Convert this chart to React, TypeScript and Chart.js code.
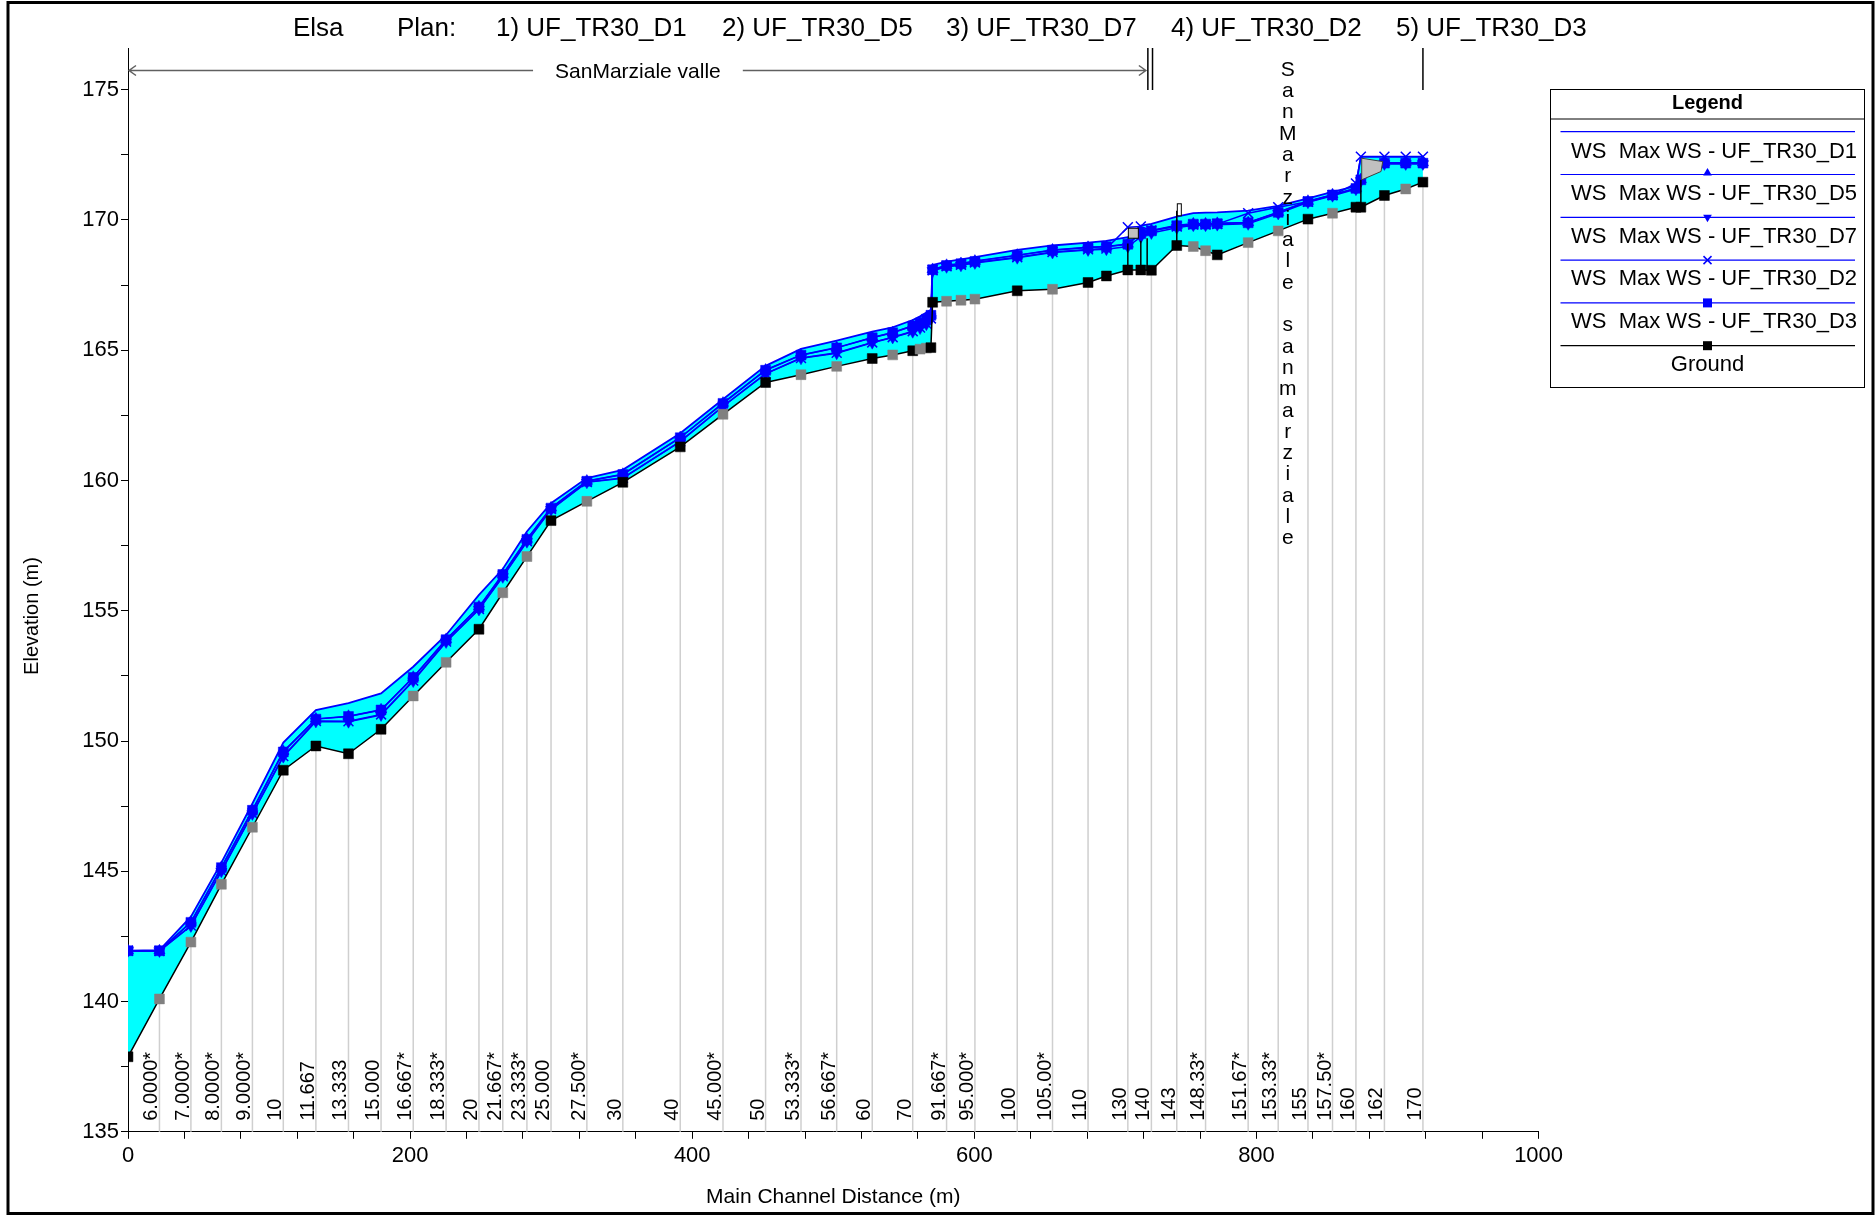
import React, { useEffect, useRef } from "react";
import { Chart, registerables } from "chart.js";

Chart.register(...registerables);

const FONT = "'Liberation Sans', Arial, Helvetica, sans-serif";

// ---------------- DATA ----------------
const titleParts = ["Elsa", "Plan:", "1) UF_TR30_D1", "2) UF_TR30_D5", "3) UF_TR30_D7", "4) UF_TR30_D2", "5) UF_TR30_D3"];

// main channel distance (m) of each cross section
const stations = [
  0, 22.3, 44.6, 66.2, 88.2, 110.1, 133.2, 156.3, 179.4, 202.2,
  225.5, 248.8, 265.7, 282.8, 299.9, 325.3, 350.8, 391.5, 421.8, 452.0,
  477.1, 502.4, 527.6, 542.1, 556.3, 561.5, 566.0, 569.2, 570.4, 580.3,
  590.5, 600.4, 630.4, 655.4, 680.6, 693.6, 708.8, 718.0, 725.5, 743.5,
  755.2, 763.9, 772.2, 794.1, 815.4, 836.5, 853.9, 870.5, 874.0, 890.7,
  905.8, 918.0,
];

// river station labels ("" = not labelled)
const stationLabels = [
  "", "6.0000*", "7.0000*", "8.0000*", "9.0000*", "10", "11.667", "13.333", "15.000", "16.667*",
  "18.333*", "20", "21.667*", "23.333*", "25.000", "27.500*", "30", "40", "45.000*", "50",
  "53.333*", "56.667*", "60", "", "70", "", "", "", "", "91.667*",
  "", "95.000*", "100", "105.00*", "110", "", "130", "", "140", "143",
  "", "148.33*", "", "151.67*", "153.33*", "155", "157.50*", "160", "", "162",
  "", "170",
];

const ground = [
  137.88, 140.10, 142.28, 144.50, 146.69, 148.88, 149.81, 149.51, 150.45, 151.73,
  153.02, 154.29, 155.69, 157.08, 158.46, 159.20, 159.93, 161.29, 162.54, 163.76,
  164.06, 164.38, 164.68, 164.82, 164.98, 165.04, 165.08, 165.10, 166.84, 166.88,
  166.92, 166.96, 167.28, 167.34, 167.60, 167.85, 168.08, 168.08, 168.07, 169.02,
  168.98, 168.82, 168.66, 169.13, 169.58, 170.03, 170.26, 170.49, 170.49, 170.94,
  171.19, 171.45,
];

// 1 = interpolated cross section (grey marker)
const groundInterpolated = [
  0, 1, 1, 1, 1, 0, 0, 0, 0, 1,
  1, 0, 1, 1, 0, 1, 0, 0, 1, 0,
  1, 1, 0, 1, 0, 1, 1, 0, 0, 1,
  1, 1, 0, 1, 0, 0, 0, 0, 0, 0,
  1, 1, 0, 1, 1, 0, 1, 0, 0, 0,
  1, 0,
];

const wsD1 = [
  141.95, 141.97, 143.26, 145.33, 147.60, 149.94, 151.19, 151.45, 151.83, 152.85,
  154.07, 155.61, 156.60, 158.04, 159.13, 160.09, 160.41, 161.81, 163.12, 164.40,
  165.05, 165.37, 165.71, 165.88, 166.16, 166.30, 166.45, 166.55, 168.27, 168.40,
  168.49, 168.57, 168.85, 169.02, 169.13, 169.20, 169.34, 169.78, 169.85, 170.13,
  170.26, 170.28, 170.29, 170.36, 170.54, 170.83, 171.08, 171.30, 172.43, 172.43,
  172.43, 172.43,
];

const wsD5 = [
  141.95, 141.95, 143.05, 145.15, 147.35, 149.60, 150.85, 150.95, 151.20, 152.45,
  153.90, 155.15, 156.40, 157.75, 158.95, 159.98, 160.24, 161.65, 162.97, 164.24,
  164.82, 165.10, 165.49, 165.68, 165.94, 166.05, 166.20, 166.35, 168.10, 168.26,
  168.33, 168.42, 168.65, 168.85, 168.95, 168.98, 169.08, 169.50, 169.60, 169.80,
  169.85, 169.85, 169.87, 169.90, 170.30, 170.72, 170.97, 171.22, 171.55, 172.20,
  172.20, 172.20,
];

const wsD7 = [
  141.95, 141.94, 142.90, 145.00, 147.20, 149.40, 150.75, 150.74, 151.00, 152.30,
  153.80, 155.05, 156.30, 157.65, 158.88, 159.93, 160.08, 161.49, 162.84, 164.09,
  164.69, 164.88, 165.29, 165.49, 165.71, 165.85, 166.00, 166.20, 168.05, 168.20,
  168.26, 168.35, 168.55, 168.75, 168.85, 168.88, 168.98, 169.35, 169.50, 169.70,
  169.80, 169.80, 169.82, 169.85, 170.25, 170.68, 170.93, 171.18, 171.50, 172.15,
  172.15, 172.15,
];

const wsD2 = [
  141.95, 141.94, 142.92, 145.02, 147.22, 149.42, 150.77, 150.76, 151.02, 152.32,
  153.82, 155.07, 156.32, 157.67, 158.90, 159.94, 160.10, 161.50, 162.85, 164.10,
  164.70, 164.90, 165.30, 165.50, 165.73, 165.87, 166.02, 166.22, 168.07, 168.22,
  168.28, 168.37, 168.57, 168.77, 168.87, 168.90, 169.72, 169.75, 169.60, 169.75,
  169.82, 169.82, 169.84, 170.26, 170.49, 170.70, 170.95, 171.40, 172.43, 172.43,
  172.43, 172.43,
];

const wsD3 = [
  141.95, 141.95, 143.04, 145.14, 147.34, 149.58, 150.84, 150.94, 151.19, 152.44,
  153.89, 155.14, 156.39, 157.74, 158.94, 159.97, 160.23, 161.64, 162.96, 164.23,
  164.81, 165.09, 165.48, 165.67, 165.93, 166.04, 166.19, 166.34, 168.09, 168.25,
  168.32, 168.41, 168.64, 168.84, 168.94, 168.97, 169.07, 169.48, 169.58, 169.78,
  169.84, 169.84, 169.86, 169.89, 170.29, 170.71, 170.96, 171.21, 171.54, 172.18,
  172.18, 172.18,
];

const seriesLabels = [
  "WS  Max WS - UF_TR30_D1",
  "WS  Max WS - UF_TR30_D5",
  "WS  Max WS - UF_TR30_D7",
  "WS  Max WS - UF_TR30_D2",
  "WS  Max WS - UF_TR30_D3",
  "Ground",
];

// reaches
const reachNames = ["SanMarziale valle", "SanMarziale sanmarziale"];
const reachStart = [0, 726.3];
const reachEnd = [723.0, 918.0];

// structures (inline structure / bridge elements)
const structX = [708.8, 718.0, 722.5, 743.5, 874.0];
const structLow = [168.08, 168.08, 168.07, 169.02, 170.49];
const structHigh = [169.10, 169.20, 169.30, 170.35, 171.54];
const deckX = [874.6, 889.5, 888.3, 874.6];
const deckY = [172.37, 172.24, 171.86, 171.54];
const boxX = [712.7];
const boxY = [169.49];
const postX = [745.3];
const postY = [170.39];

// axes
const xTickValues = Array.from({ length: 26 }, (_, i) => i * 40);
const yTickValues = Array.from({ length: 17 }, (_, i) => 135 + i * 2.5);

// ---------------- DRAW HELPERS ----------------
const BLUE = "#0000FF";

function drawMarker(ctx: CanvasRenderingContext2D, style: string, x: number, y: number, color: string) {
  ctx.save();
  ctx.fillStyle = color;
  ctx.strokeStyle = color;
  ctx.lineWidth = 1.5;
  const r = 5;
  if (style === "triUp") {
    ctx.beginPath();
    ctx.moveTo(x, y - r);
    ctx.lineTo(x - r * 0.87, y + r * 0.5);
    ctx.lineTo(x + r * 0.87, y + r * 0.5);
    ctx.closePath();
    ctx.fill();
  } else if (style === "triDown") {
    ctx.beginPath();
    ctx.moveTo(x, y + r);
    ctx.lineTo(x - r * 0.87, y - r * 0.5);
    ctx.lineTo(x + r * 0.87, y - r * 0.5);
    ctx.closePath();
    ctx.fill();
  } else if (style === "cross") {
    ctx.beginPath();
    ctx.moveTo(x - 4, y - 4);
    ctx.lineTo(x + 4, y + 4);
    ctx.moveTo(x + 4, y - 4);
    ctx.lineTo(x - 4, y + 4);
    ctx.stroke();
  } else if (style === "square") {
    ctx.fillRect(x - 4.5, y - 4.5, 9, 9);
  }
  ctx.restore();
}

const overlayPlugin = {
  id: "overlay",
  beforeDraw(chart: any) {
    const ctx = chart.ctx;
    ctx.save();
    ctx.fillStyle = "#ffffff";
    ctx.fillRect(0, 0, chart.width, chart.height);
    ctx.restore();
  },
  beforeDatasetsDraw(chart: any) {
    const { ctx, chartArea } = chart;
    const xs = chart.scales.x;
    const ys = chart.scales.y;
    ctx.save();
    ctx.strokeStyle = "#cfcfcf";
    ctx.lineWidth = 1.5;
    stationLabels.forEach((lab, i) => {
      if (!lab) return;
      const px = xs.getPixelForValue(stations[i]);
      const py = ys.getPixelForValue(ground[i]);
      ctx.beginPath();
      ctx.moveTo(px, py);
      ctx.lineTo(px, chartArea.bottom);
      ctx.stroke();
    });
    ctx.fillStyle = "#000";
    ctx.font = `20px ${FONT}`;
    ctx.textAlign = "left";
    ctx.textBaseline = "alphabetic";
    stationLabels.forEach((lab, i) => {
      if (!lab) return;
      const px = xs.getPixelForValue(stations[i]);
      ctx.save();
      ctx.translate(px - 2, chartArea.bottom - 11);
      ctx.rotate(-Math.PI / 2);
      ctx.fillText(lab, 0, 0);
      ctx.restore();
    });
    ctx.restore();
  },
  afterDatasetsDraw(chart: any) {
    const { ctx } = chart;
    const xs = chart.scales.x;
    const ys = chart.scales.y;
    ctx.save();
    // deck polygon
    ctx.beginPath();
    deckX.forEach((dx, i) => {
      const px = xs.getPixelForValue(dx);
      const py = ys.getPixelForValue(deckY[i]);
      if (i === 0) ctx.moveTo(px, py);
      else ctx.lineTo(px, py);
    });
    ctx.closePath();
    ctx.fillStyle = "#c0c0c0";
    ctx.fill();
    ctx.strokeStyle = "#404040";
    ctx.lineWidth = 1;
    ctx.stroke();
    // structure lines
    ctx.strokeStyle = "#000";
    ctx.lineWidth = 1.5;
    structX.forEach((sx, i) => {
      const px = xs.getPixelForValue(sx);
      ctx.beginPath();
      ctx.moveTo(px, ys.getPixelForValue(structLow[i]));
      ctx.lineTo(px, ys.getPixelForValue(structHigh[i]));
      ctx.stroke();
    });
    // boxes
    boxX.forEach((bx, i) => {
      const px = xs.getPixelForValue(bx);
      const py = ys.getPixelForValue(boxY[i]);
      ctx.fillStyle = "#c0c0c0";
      ctx.fillRect(px - 5, py - 5, 10, 10);
      ctx.strokeStyle = "#000";
      ctx.lineWidth = 1;
      ctx.strokeRect(px - 5, py - 5, 10, 10);
    });
    postX.forEach((bx, i) => {
      const px = xs.getPixelForValue(bx);
      const py = ys.getPixelForValue(postY[i]);
      ctx.fillStyle = "#ffffff";
      ctx.fillRect(px - 2, py - 6, 4, 12);
      ctx.strokeStyle = "#000";
      ctx.lineWidth = 1;
      ctx.strokeRect(px - 2, py - 6, 4, 12);
    });
    ctx.restore();
  },
  afterDraw(chart: any) {
    const { ctx, chartArea } = chart;
    const xs = chart.scales.x;
    ctx.save();

    // title
    const titleX = [293, 397, 496, 722, 946, 1171, 1396];
    ctx.fillStyle = "#000";
    ctx.font = `26px ${FONT}`;
    ctx.textAlign = "left";
    ctx.textBaseline = "middle";
    titleParts.forEach((t, i) => ctx.fillText(t, titleX[i], 28.5));

    // reach 1 (horizontal annotation with arrows)
    const lineY = 70.5;
    const r1a = xs.getPixelForValue(reachStart[0]);
    const r1b = xs.getPixelForValue(reachEnd[0]);
    const cx = (r1a + r1b) / 2;
    ctx.font = `21px ${FONT}`;
    const tw = ctx.measureText(reachNames[0]).width;
    ctx.strokeStyle = "#606060";
    ctx.lineWidth = 1.5;
    ctx.beginPath();
    ctx.moveTo(r1a + 1, lineY);
    ctx.lineTo(cx - tw / 2 - 22, lineY);
    ctx.moveTo(cx + tw / 2 + 22, lineY);
    ctx.lineTo(r1b - 2, lineY);
    ctx.moveTo(r1a + 8, lineY - 5);
    ctx.lineTo(r1a + 1, lineY);
    ctx.lineTo(r1a + 8, lineY + 5);
    ctx.moveTo(r1b - 9, lineY - 5);
    ctx.lineTo(r1b - 2, lineY);
    ctx.lineTo(r1b - 9, lineY + 5);
    ctx.stroke();
    ctx.fillStyle = "#000";
    ctx.textAlign = "center";
    ctx.textBaseline = "alphabetic";
    ctx.fillText(reachNames[0], cx, 78);

    // reach boundary bars
    ctx.strokeStyle = "#000";
    ctx.lineWidth = 1.5;
    [reachEnd[0], reachStart[1], reachEnd[1]].forEach((v) => {
      const px = xs.getPixelForValue(v);
      ctx.beginPath();
      ctx.moveTo(px, chartArea.top);
      ctx.lineTo(px, 90);
      ctx.stroke();
    });

    // reach 2 (vertical stacked letters)
    const r2c = (xs.getPixelForValue(reachStart[1]) + xs.getPixelForValue(reachEnd[1])) / 2;
    ctx.font = `21px ${FONT}`;
    ctx.textAlign = "center";
    ctx.textBaseline = "middle";
    Array.from(reachNames[1]).forEach((ch, k) => {
      ctx.fillText(ch, r2c, 70 + k * 21.3);
    });

    // axis titles
    ctx.font = `21px ${FONT}`;
    ctx.textAlign = "center";
    ctx.textBaseline = "middle";
    ctx.fillText("Main Channel Distance (m)", (chartArea.left + chartArea.right) / 2, 1197);
    ctx.save();
    ctx.translate(32, 616);
    ctx.rotate(-Math.PI / 2);
    ctx.font = `20px ${FONT}`;
    ctx.fillText("Elevation (m)", 0, 0);
    ctx.restore();

    // legend
    const lx0 = 1550.5, lx1 = 1864.5, ly0 = 89.5, ly1 = 387.5;
    ctx.strokeStyle = "#000";
    ctx.lineWidth = 1;
    ctx.strokeRect(lx0, ly0, lx1 - lx0, ly1 - ly0);
    ctx.beginPath();
    ctx.moveTo(lx0, 119);
    ctx.lineTo(lx1, 119);
    ctx.stroke();
    ctx.font = `bold 20px ${FONT}`;
    ctx.textAlign = "center";
    ctx.fillText("Legend", (lx0 + lx1) / 2, 103);
    const markerStyles = ["none", "triUp", "triDown", "cross", "square", "square"];
    const lineColors = [BLUE, BLUE, BLUE, BLUE, BLUE, "#000"];
    const mx = 1707.5;
    seriesLabels.forEach((lab, i) => {
      const ly = 131.7 + i * 42.8;
      const ty = 151.5 + i * 42.6;
      ctx.strokeStyle = lineColors[i];
      ctx.lineWidth = 1.2;
      ctx.beginPath();
      ctx.moveTo(1560.5, ly);
      ctx.lineTo(1855, ly);
      ctx.stroke();
      if (markerStyles[i] !== "none") {
        drawMarker(ctx, markerStyles[i], mx, markerStyles[i] === "triUp" ? ly - 1.5 : ly, lineColors[i]);
      }
      ctx.fillStyle = "#000";
      ctx.font = `22px ${FONT}`;
      if (i < 5) {
        ctx.textAlign = "left";
        ctx.fillText(lab, 1571, ty);
      } else {
        ctx.textAlign = "center";
        ctx.fillText(lab, mx, ty);
      }
    });

    // outer frame
    ctx.strokeStyle = "#000";
    ctx.lineWidth = 3;
    ctx.strokeRect(8, 2.5, 1865, 1211);
    ctx.restore();
  },
};

export default function App() {
  const ref = useRef<HTMLCanvasElement | null>(null);

  useEffect(() => {
    document.body.style.margin = "0";
    const canvas = ref.current;
    if (!canvas) return;

    const mk = (ys: number[]) => stations.map((x, i) => ({ x, y: ys[i] }));
    const groundColors = groundInterpolated.map((g) => (g ? "#808080" : "#000000"));

    const chart = new Chart(canvas, {
      type: "line",
      data: {
        datasets: [
          {
            label: seriesLabels[5],
            data: mk(ground),
            borderColor: "#000000",
            borderWidth: 1.5,
            pointStyle: "rect",
            pointRadius: 7,
            pointBackgroundColor: groundColors,
            pointBorderColor: groundColors,
            pointBorderWidth: 0.5,
            order: 0,
          },
          {
            label: seriesLabels[0],
            data: mk(wsD1),
            borderColor: BLUE,
            borderWidth: 1.8,
            pointRadius: 0,
            order: 5,
          },
          {
            label: seriesLabels[1],
            data: mk(wsD5),
            borderColor: BLUE,
            borderWidth: 1.5,
            pointStyle: "triangle",
            pointRadius: 6.5,
            pointBackgroundColor: BLUE,
            pointBorderColor: BLUE,
            pointBorderWidth: 0.5,
            order: 4,
          },
          {
            label: seriesLabels[2],
            data: mk(wsD7),
            borderColor: BLUE,
            borderWidth: 1.5,
            pointStyle: "triangle",
            pointRotation: 180,
            pointRadius: 6.5,
            pointBackgroundColor: BLUE,
            pointBorderColor: BLUE,
            pointBorderWidth: 0.5,
            order: 3,
          },
          {
            label: seriesLabels[3],
            data: mk(wsD2),
            borderColor: BLUE,
            borderWidth: 1.5,
            pointStyle: "crossRot",
            pointRadius: 7,
            pointBackgroundColor: BLUE,
            pointBorderColor: BLUE,
            pointBorderWidth: 1.5,
            order: 2,
          },
          {
            label: seriesLabels[4],
            data: mk(wsD3),
            borderColor: BLUE,
            borderWidth: 1.5,
            pointStyle: "rect",
            pointRadius: 7,
            pointBackgroundColor: BLUE,
            pointBorderColor: BLUE,
            pointBorderWidth: 0.5,
            order: 1,
          },
          {
            label: "water",
            data: mk(wsD1),
            borderWidth: 0,
            borderColor: "rgba(0,0,0,0)",
            pointRadius: 0,
            backgroundColor: "#00FFFF",
            fill: 0,
            order: 10,
          },
        ],
      },
      options: {
        responsive: false,
        devicePixelRatio: 1,
        animation: false,
        events: [],
        layout: { padding: { left: 0, top: 48, right: 337.4, bottom: 0 } },
        plugins: {
          legend: { display: false },
          tooltip: { enabled: false },
          title: { display: false },
        },
        scales: {
          x: {
            type: "linear",
            min: 0,
            max: 1000,
            afterBuildTicks: (s: any) => {
              s.ticks = xTickValues.map((v) => ({ value: v }));
            },
            afterFit: (s: any) => {
              s.height = 83.2;
            },
            ticks: {
              autoSkip: false,
              maxRotation: 0,
              padding: 4,
              color: "#000",
              font: { family: FONT, size: 22 },
              callback: (v: any) => (Number(v) % 200 === 0 ? String(v) : ""),
            },
            grid: { drawOnChartArea: false, drawTicks: true, tickLength: 7, color: "#000", lineWidth: 1 },
            border: { display: true, color: "#000", width: 1 },
          },
          y: {
            type: "linear",
            min: 135,
            max: 176.6,
            afterBuildTicks: (s: any) => {
              s.ticks = yTickValues.map((v) => ({ value: v }));
            },
            afterFit: (s: any) => {
              s.width = 128;
            },
            ticks: {
              autoSkip: false,
              padding: 2,
              color: "#000",
              font: { family: FONT, size: 22 },
              callback: (v: any) => (Number(v) % 5 === 0 ? String(v) : ""),
            },
            grid: { drawOnChartArea: false, drawTicks: true, tickLength: 7, color: "#000", lineWidth: 1 },
            border: { display: true, color: "#000", width: 1 },
          },
        },
      },
      plugins: [overlayPlugin],
    } as any);

    return () => chart.destroy();
  }, []);

  return (
    <div style={{ width: 1876, height: 1215, overflow: "hidden" }}>
      <canvas ref={ref} width={1876} height={1215} style={{ display: "block" }} />
    </div>
  );
}
